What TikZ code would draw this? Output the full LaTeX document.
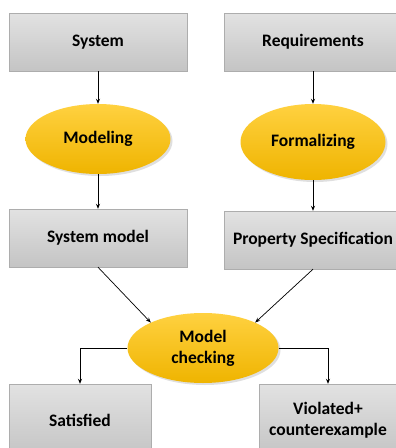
\documentclass[tikz,border=0pt]{standalone}
\usepackage{fontspec}
\setmainfont{Carlito}
\usetikzlibrary{arrows.meta,shapes.geometric,shadows,positioning}
\definecolor{boxtop}{HTML}{E2E2E2}
\definecolor{boxbot}{HTML}{C4C4C4}
\definecolor{boxline}{HTML}{ADADAD}
\definecolor{goldtop}{HTML}{FFD140}
\definecolor{goldbot}{HTML}{EFB400}
\tikzset{
  graybox/.style={rectangle,draw=boxline,top color=boxtop,bottom color=boxbot,
    minimum height=58pt,inner sep=0pt,align=center,
    font=\bfseries\fontsize{17.5}{21}\selectfont},
  goldell/.style={ellipse,draw=none,top color=goldtop,bottom color=goldbot,
    minimum width=145pt,minimum height=70pt,inner sep=0pt,align=center,
    font=\bfseries\fontsize{17.5}{21}\selectfont,
    drop shadow={shadow xshift=2pt,shadow yshift=-2pt,opacity=.25}},
  arr/.style={-{Stealth[length=5pt,width=4pt]},line width=.7pt}
}
\begin{document}
\begin{tikzpicture}[x=1pt,y=-1pt]
\clip(0,0)rectangle(396,448);
\fill[white](0,0)rectangle(396,448);
\node[graybox,minimum width=178pt](sys)at(98,42){System};
\node[graybox,minimum width=178pt](req)at(313,42){Requirements};
\node[goldell](mod)at(98,139){Modeling};
\node[goldell,minimum height=76pt](form)at(313,142){Formalizing};
\node[graybox,minimum width=178pt](sysm)at(98,238){System model};
\node[graybox,minimum width=178pt](prop)at(313,240){Property Specification};
\node[goldell,minimum width=151pt](mc)at(203,348){Model\\checking};
\node[graybox,minimum width=142pt,minimum height=72pt](sat)at(80,420){Satisfied};
\node[graybox,minimum width=138pt,minimum height=72pt](vio)at(328,420){Violated+\\counterexample};
\draw[arr](sys)--(mod);
\draw[arr](req)--(form);
\draw[arr](mod)--(sysm);
\draw[arr](form)--(prop);
\draw[arr](sysm.south)--(mc.154);
\draw[arr](prop.south)--(mc.26);
\draw[arr](mc.west)-|(sat.north);
\draw[arr](mc.east)-|(vio.north);
\end{tikzpicture}
\end{document}
